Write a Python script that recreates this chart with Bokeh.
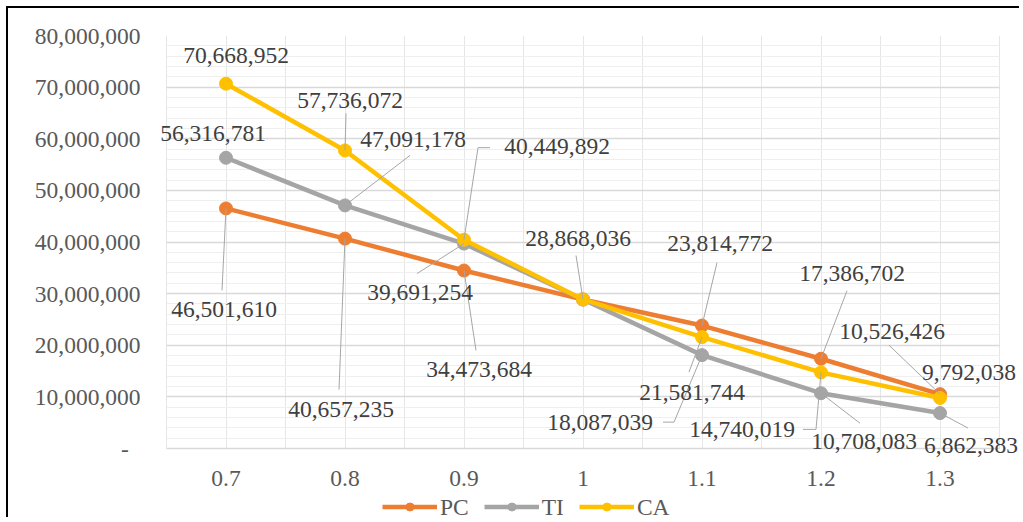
from bokeh.plotting import figure
from bokeh.layouts import column
from bokeh.models import (FixedTicker, NumeralTickFormatter, Legend, LegendItem,
                          LabelSet, ColumnDataSource, Grid, BoxAnnotation)
from bokeh.embed import file_html
from bokeh.resources import INLINE

# ---------------- data ----------------
categories = ["0.7", "0.8", "0.9", "1", "1.1", "1.2", "1.3"]
pc = [46501610, 40657235, 34473684, 28868036, 23814772, 17386702, 10526426]
ti = [56316781, 47091178, 39691254, 28868036, 18087039, 10708083, 6862383]
ca = [70668952, 57736072, 40449892, 28868036, 21581744, 14740019, 9792038]
y_ticks = [0, 10000000, 20000000, 30000000, 40000000, 50000000, 60000000, 70000000, 80000000]
y_minor = [k * 2000000 for k in range(41)]

# ---------------- style / layout ----------------
FONT = "Liberation Serif"
FS = "23.5px"
W = 1013
H_MAIN, H_LEG = 486, 25
PLOT_W, PLOT_H = 833, 413          # category plot area in px
PAD_L, PAD_R, PAD_B = 8, 20, 10    # extra frame room so labels are not clipped
BL, BT = 150, 27
BR = W - BL - (PLOT_W + PAD_L + PAD_R)
BB = H_MAIN - BT - (PLOT_H + PAD_B)
Y_MAX = 80000000
N = len(categories)
PX_X = PLOT_W / N
PX_Y = PLOT_H / Y_MAX
LEGEND_X = 374                     # legend start, px from chart's left edge

# label offsets in screen pixels (dx, dy[down]), leader end (ex, ey[, elbow hx])
label_layout = {
    "PC": [(-2, 101, (-4, 82)), (-4, 171, (-6, 151)), (15, 99, (12, 80)),
           (-5, -61, (-7, -44)), (18, -82, (15, -63)), (31, -85, (26, -68)),
           (-48, -63, (-51, -49))],
    "TI": [(-13, -24, None), (68, -66, (65, -50)), (-44, 49, (-47, 30)), None,
           (-102, 67, (-28, 67, -39)), (43, 48, (39, 30)), (31, 32, (28, 15))],
    "CA": [(10, -28, None), (5, -50, (1, -37)), (93, -93, (14, -92, 26)), None,
           (-10, 55, (-13, 35)), (-79, 57, (-5, 57, -18)), (29, -25, None)],
}

series = [("PC", pc, "#ED7D31"), ("TI", ti, "#A5A5A5"), ("CA", ca, "#FFC000")]

x0, x1 = -0.5, N - 0.5
p = figure(width=W, height=H_MAIN,
           x_range=(x0 - PAD_L / PX_X, x1 + PAD_R / PX_X),
           y_range=(-PAD_B / PX_Y, Y_MAX),
           output_backend="svg", toolbar_location=None, title=None,
           min_border_left=BL, min_border_right=BR, min_border_top=BT, min_border_bottom=BB)
p.outline_line_color = None
p.background_fill_color = "white"
p.border_fill_color = "white"

# grids (limited to the category area)
p.xgrid.ticker = FixedTicker(ticks=[k * 0.5 - 0.5 for k in range(2 * N + 1)])
p.xgrid.grid_line_color = "#e6e6e6"
p.xgrid.grid_line_width = 1
p.ygrid.ticker = FixedTicker(ticks=y_ticks, minor_ticks=y_minor)
p.ygrid.grid_line_color = "#d9d9d9"
p.ygrid.grid_line_width = 1.3
p.ygrid.minor_grid_line_color = "#efefef"
p.ygrid.minor_grid_line_width = 1
if "cross_bounds" in Grid.properties():
    p.xgrid.cross_bounds = (0, Y_MAX)
    p.ygrid.cross_bounds = (x0, x1)
else:
    for kw in (dict(left=x1), dict(right=x0), dict(top=0)):
        p.add_layout(BoxAnnotation(fill_color="white", fill_alpha=1, line_color=None,
                                   level="underlay", **kw))

# axes
x_idx = list(range(N))
p.xaxis.ticker = FixedTicker(ticks=x_idx)
p.xaxis.major_label_overrides = {i: c for i, c in zip(x_idx, categories)}
p.xaxis.axis_line_color = None
p.xaxis.major_tick_line_color = None
p.xaxis.minor_tick_line_color = None
p.xaxis.major_label_standoff = 16 - PAD_B

p.yaxis.ticker = FixedTicker(ticks=y_ticks)
p.yaxis.formatter = NumeralTickFormatter(format="0,0")
p.yaxis.major_label_overrides = {0: "-\u00a0\u00a0"}
p.yaxis.axis_line_color = None
p.yaxis.major_tick_line_color = None
p.yaxis.minor_tick_line_color = None
p.yaxis.major_label_standoff = 12

for ax in (p.xaxis, p.yaxis):
    ax.major_label_text_font = FONT
    ax.major_label_text_font_size = FS
    ax.major_label_text_color = "#595959"

for name, vals, color in series:
    p.line(x_idx, vals, line_color=color, line_width=4.5)
    p.scatter(x_idx, vals, size=13, fill_color=color, line_color=color)

# leader lines and data labels
lead_xs, lead_ys = [], []
lab_x, lab_y, lab_t = [], [], []
for name, vals, color in series:
    for i, v in enumerate(vals):
        spec = label_layout[name][i]
        if spec is None:
            continue
        dx, dy, lead = spec
        lab_x.append(i + dx / PX_X)
        lab_y.append(v - dy / PX_Y)
        lab_t.append(f"{v:,}")
        if lead is not None:
            xs = [i, i + lead[0] / PX_X]
            ys = [v, v - lead[1] / PX_Y]
            if len(lead) == 3:
                xs.append(i + lead[2] / PX_X)
                ys.append(v - lead[1] / PX_Y)
            lead_xs.append(xs)
            lead_ys.append(ys)

p.multi_line(lead_xs, lead_ys, line_color="#a6a6a6", line_width=1)
labels = LabelSet(source=ColumnDataSource(dict(x=lab_x, y=lab_y, t=lab_t)),
                  x="x", y="y", text="t", text_font=FONT, text_font_size=FS,
                  text_color="#404040", text_align="center", text_baseline="middle")
p.add_layout(labels)

# legend strip (separate figure below the chart; its series lie outside its view)
p2 = figure(width=W, height=H_LEG, x_range=(0, 1), y_range=(0, 1),
            output_backend="svg", toolbar_location=None, title=None,
            x_axis_location=None, y_axis_location=None, min_border=0)
p2.outline_line_color = None
p2.grid.grid_line_color = None
legend_items = []
for name, vals, color in series:
    r = p2.line(x_idx, vals, line_color=color, line_width=4.5)
    s = p2.scatter(x_idx, vals, size=13, fill_color=color, line_color=color)
    legend_items.append(LegendItem(label=name, renderers=[r, s]))
legend = Legend(items=legend_items, location="left", margin=LEGEND_X - BL,
                orientation="horizontal",
                glyph_width=55, glyph_height=20, label_standoff=3, spacing=15,
                padding=0, border_line_color=None, background_fill_alpha=0,
                label_text_font=FONT, label_text_font_size=FS, label_text_color="#595959")
p2.add_layout(legend, "center")

layout = column(p, p2, spacing=0,
                styles={"margin-left": "8px", "margin-top": "8px",
                        "box-shadow": "-2px -2px 0 0 #000000"})

open("out.html", "w").write(file_html(layout, INLINE))
